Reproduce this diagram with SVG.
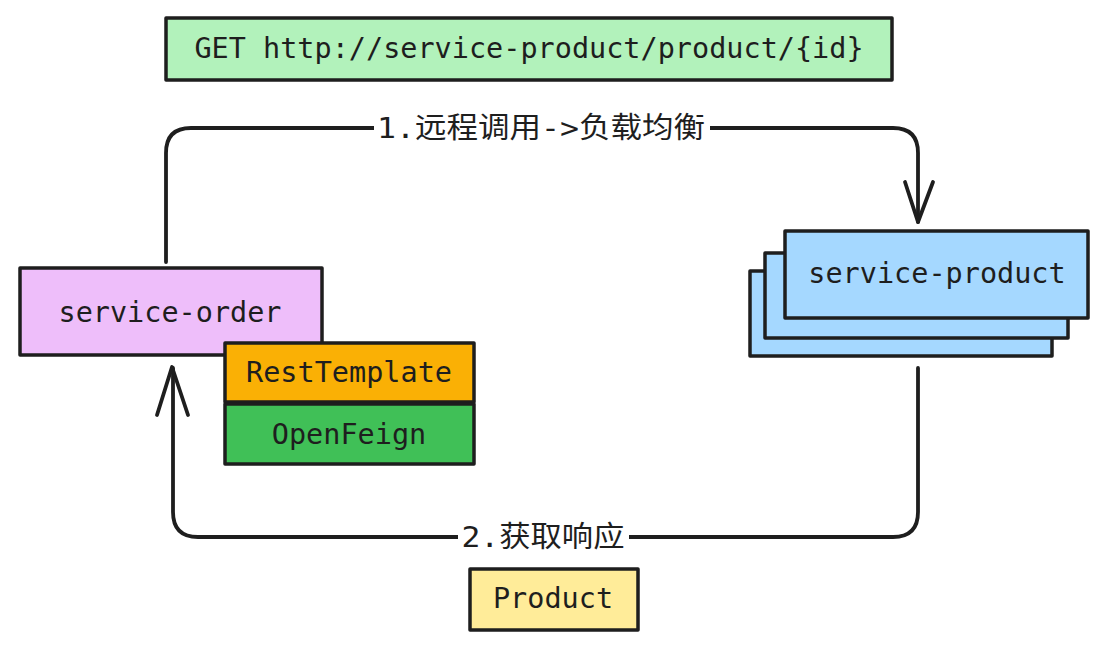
<svg xmlns="http://www.w3.org/2000/svg" width="1108" height="649" viewBox="0 0 1108 649">
<style>
.box{stroke:#1e1e1e;stroke-width:3.5;stroke-linejoin:round}
.t{font-family:"DejaVu Sans Mono","Liberation Mono","Noto Sans CJK SC",monospace;font-size:28.5px;fill:#1e1e1e;text-anchor:middle;dominant-baseline:central}
.lbl{font-family:"DejaVu Sans Mono","Noto Sans CJK SC",monospace;font-size:29px;fill:#1e1e1e;text-anchor:middle;dominant-baseline:central}
.conn{fill:none;stroke:#1e1e1e;stroke-width:3.8;stroke-linecap:round;stroke-linejoin:round}
</style>
<rect width="1108" height="649" fill="#ffffff"/>

<g id="connectors">
<path class="conn" d="M166,262 L166,153 Q166,128 191,128 L893,128 Q918,128 918,153 L918,222"/>
<path class="conn" d="M905,182 L918,222 L933,182"/>
<path class="conn" d="M918,368 L918,512 Q918,537 893,537 L198,537 Q173,537 173,512 L173,368"/>
<path class="conn" d="M157,415 L172,367 L188,415"/>
<rect x="374" y="110" width="336" height="36" fill="#ffffff"/>
<text class="lbl" x="541" y="128" textLength="328" lengthAdjust="spacingAndGlyphs">1.远程调用-&gt;负载均衡</text>
<rect x="458" y="519" width="171" height="36" fill="#ffffff"/>
<text class="lbl" x="543" y="537" textLength="163" lengthAdjust="spacingAndGlyphs">2.获取响应</text>
</g>

<g id="get-url">
<rect class="box" x="166" y="18" width="726" height="62" fill="#b2f2bb"/>
<text class="t" x="529" y="48">GET http://service-product/product/{id}</text>
</g>

<g id="service-order">
<rect class="box" x="20" y="268" width="302" height="87" fill="#eebefa"/>
<text class="t" x="170" y="312">service-order</text>
</g>

<g id="resttemplate">
<rect class="box" x="225" y="343" width="249" height="59" fill="#fab005"/>
<text class="t" x="349" y="372">RestTemplate</text>
</g>

<g id="openfeign">
<rect class="box" x="225" y="404" width="249" height="60" fill="#40c057"/>
<text class="t" x="349" y="434">OpenFeign</text>
</g>

<g id="service-product">
<rect class="box" x="750" y="271" width="302" height="85" fill="#a5d8ff"/>
<rect class="box" x="765" y="253" width="303" height="85" fill="#a5d8ff"/>
<rect class="box" x="785" y="231" width="303" height="87" fill="#a5d8ff"/>
<text class="t" x="937" y="273">service-product</text>
</g>

<g id="product">
<rect class="box" x="470" y="569" width="168" height="61" fill="#ffec99"/>
<text class="t" x="553" y="598">Product</text>
</g>
</svg>
